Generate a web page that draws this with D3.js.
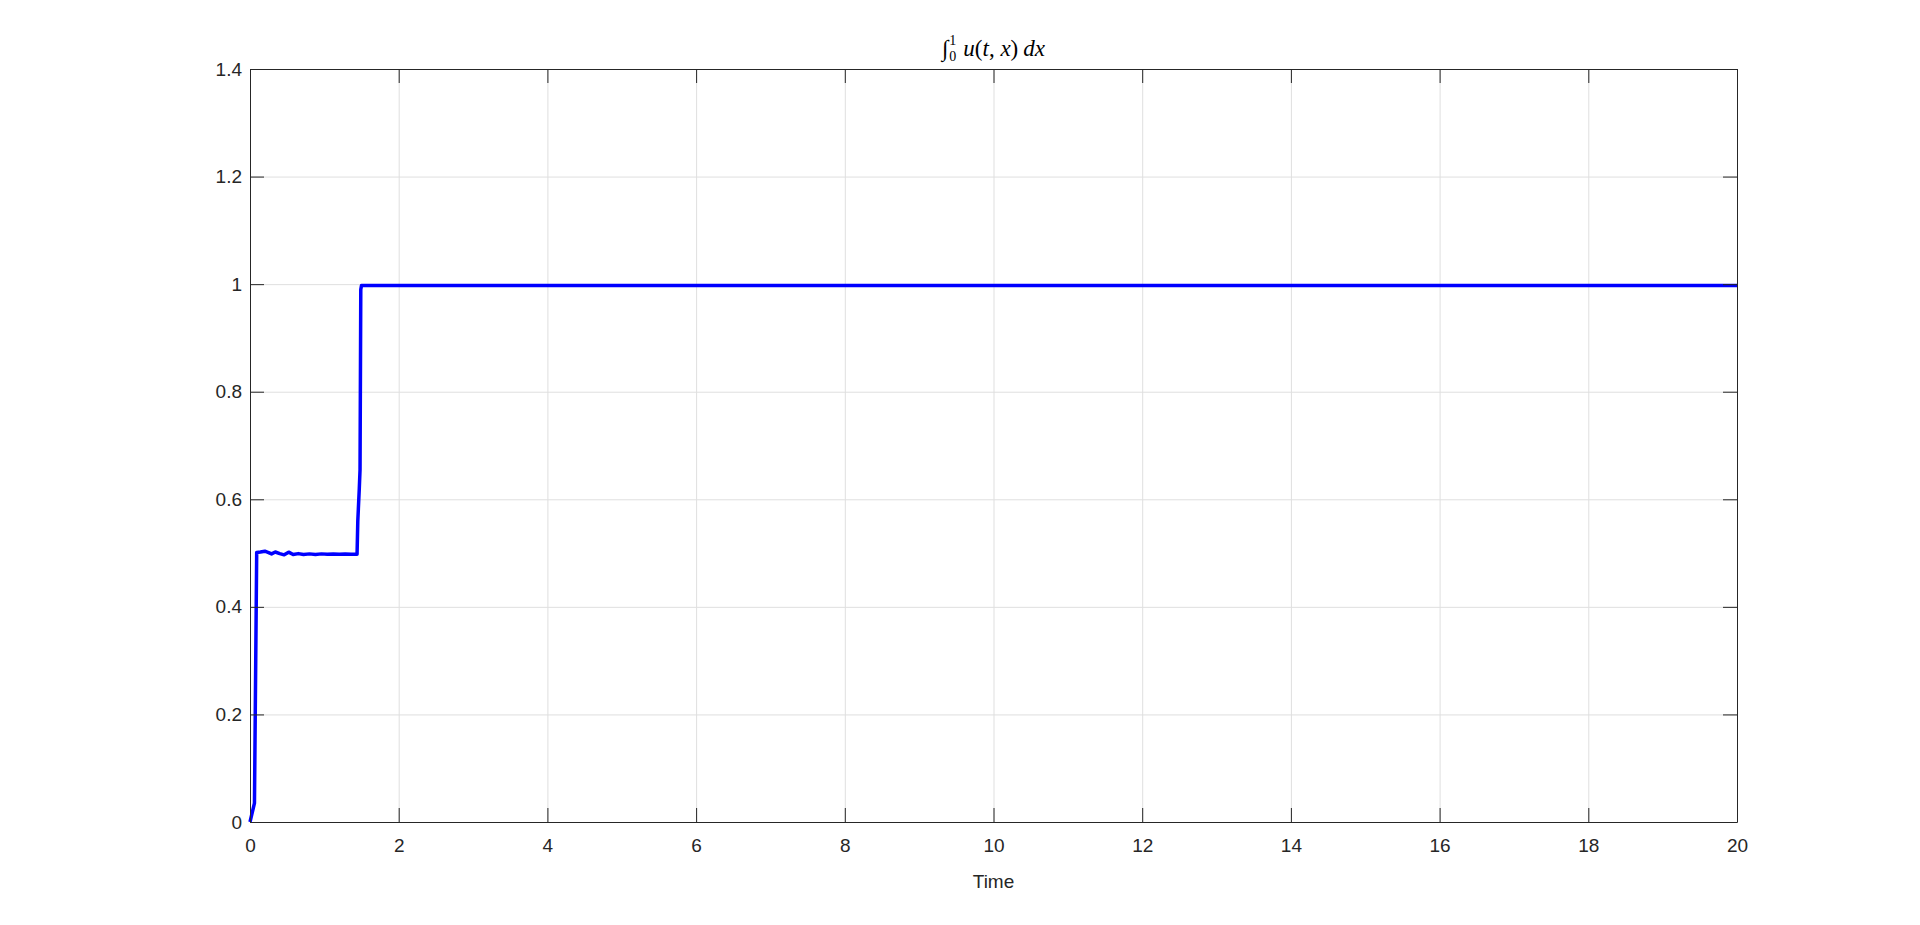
<!DOCTYPE html>
<html>
<head>
<meta charset="utf-8">
<script src="https://cdn.jsdelivr.net/npm/d3@7"></script>
<style>
  html, body { margin: 0; padding: 0; background: #fff; }
  svg { display: block; }
  .tick text { font-family: "Liberation Sans", Arial, sans-serif; font-size: 19px; fill: #262626; }
  .axis path, .axis line { stroke: #262626; }
  .grid line { stroke: #dfdfdf; stroke-width: 1; }
  .grid path { stroke: none; }
</style>
</head>
<body>
<svg id="chart"></svg>
<script>
// values
var time_vals = [0, 0.06, 0.09, 0.14, 0.2, 0.25, 0.29, 0.34, 0.4, 0.46, 0.52, 0.58, 0.65, 0.72, 0.8, 0.88, 0.96, 1.04, 1.12, 1.2, 1.28, 1.36, 1.44, 1.45, 1.47, 1.48, 1.49, 1.5, 2, 20];
var integral_vals = [0, 0.035, 0.501, 0.502, 0.5035, 0.501, 0.4985, 0.502, 0.499, 0.4967, 0.5017, 0.4972, 0.499, 0.4975, 0.4985, 0.4975, 0.4985, 0.4978, 0.4984, 0.4977, 0.4983, 0.4978, 0.498, 0.56, 0.62, 0.655, 0.99, 0.9976, 0.9976, 0.9976];
var x_ticks = [0, 2, 4, 6, 8, 10, 12, 14, 16, 18, 20];
var y_ticks = [0, 0.2, 0.4, 0.6, 0.8, 1, 1.2, 1.4];
var x_label = "Time";

var W = 1920, H = 925;
var margin = {left: 250, right: 183, top: 69, bottom: 103};
var w = W - margin.left - margin.right;
var h = H - margin.top - margin.bottom;

var svg = d3.select("#chart").attr("width", W).attr("height", H);
var g = svg.append("g").attr("transform", "translate(" + margin.left + "," + margin.top + ")");

var x = d3.scaleLinear().domain([0, 20]).range([0, w]);
var y = d3.scaleLinear().domain([0, 1.4]).range([h, 0]);

// grid
g.append("g").attr("class", "grid")
  .attr("transform", "translate(0," + h + ")")
  .call(d3.axisBottom(x).tickValues(x_ticks).tickSize(-h).tickFormat(""));
g.append("g").attr("class", "grid")
  .call(d3.axisLeft(y).tickValues(y_ticks).tickSize(-w).tickFormat(""));

// data line
var line = d3.line().x(function(d, i){ return x(time_vals[i]); }).y(function(d){ return y(d); });
g.append("path")
  .datum(integral_vals)
  .attr("d", line)
  .attr("fill", "none")
  .attr("stroke", "#0000ff")
  .attr("stroke-width", 3.5)
  .attr("stroke-linejoin", "round");

// axes, ticks pointing inward
var fmt = function(d){ return String(d); };
g.append("g").attr("class", "axis")
  .attr("transform", "translate(0," + h + ")")
  .call(d3.axisBottom(x).tickValues(x_ticks).tickSize(-14).tickSizeOuter(0).tickPadding(17).tickFormat(fmt));
g.append("g").attr("class", "axis")
  .call(d3.axisTop(x).tickValues(x_ticks).tickSize(-14).tickSizeOuter(0).tickFormat(""));
g.append("g").attr("class", "axis")
  .call(d3.axisLeft(y).tickValues(y_ticks).tickSize(-14).tickSizeOuter(0).tickPadding(8).tickFormat(fmt));
g.append("g").attr("class", "axis")
  .attr("transform", "translate(" + w + ",0)")
  .call(d3.axisRight(y).tickValues(y_ticks).tickSize(-14).tickSizeOuter(0).tickFormat(""));

// x label
g.append("text")
  .attr("x", w / 2)
  .attr("y", h + 66)
  .attr("text-anchor", "middle")
  .style("font-family", "'Liberation Sans', Arial, sans-serif")
  .style("font-size", "19px")
  .style("fill", "#262626")
  .text(x_label);

// title: integral from 0 to 1 of u(t,x) dx
var title = g.append("text")
  .attr("x", w / 2)
  .attr("y", -13)
  .attr("text-anchor", "middle")
  .style("font-family", "'Liberation Serif', 'DejaVu Serif', serif")
  .style("font-size", "23px")
  .style("fill", "#000");
title.append("tspan").text("\u222B");
title.append("tspan").attr("dy", 5).attr("dx", 1).style("font-size", "14px").text("0");
title.append("tspan").attr("dy", -16).attr("dx", -7).style("font-size", "14px").text("1");
title.append("tspan").attr("dy", 11).attr("dx", 7).style("font-style", "italic").text("u");
title.append("tspan").text("(");
title.append("tspan").style("font-style", "italic").text("t");
title.append("tspan").text(", ");
title.append("tspan").style("font-style", "italic").text("x");
title.append("tspan").text(")");
title.append("tspan").attr("dx", 5).style("font-style", "italic").text("dx");
</script>
</body>
</html>
